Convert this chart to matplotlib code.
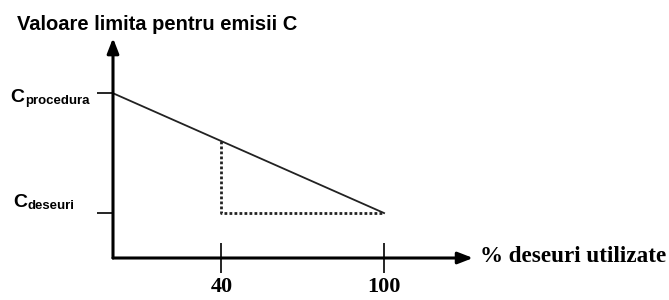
import matplotlib.pyplot as plt
import matplotlib.transforms as mtransforms

# data
x_limit = [0, 100]          # % deseuri utilizate
c_limit = [2.0, 1.0]        # C_procedura -> C_deseuri
x_dotted = [40, 40, 100]
c_dotted = [1.6, 1.0, 1.0]
x_ticks = [40, 100]
x_ticklabels = ["40", "100"]
y_ticks = [1.0, 2.0]
y_subscripts = ["deseuri", "procedura"]

xmin, xmax = 0, 132.8
ymin, ymax = 0.625, 2.46

fig = plt.figure(figsize=(6.69, 3.0), dpi=100)
ax = fig.add_axes([113 / 669, 0.14, (473 - 113) / 669, 0.733])
ax.set_xlim(xmin, xmax)
ax.set_ylim(ymin, ymax)
for s in ax.spines.values():
    s.set_visible(False)

# axes with arrows
arrow = dict(arrowstyle="-|>,head_length=0.9,head_width=0.35", color="black",
             lw=2.2, shrinkA=0, shrinkB=0)
ax.annotate("", xy=(xmax, ymin), xytext=(xmin, ymin), arrowprops=arrow,
            annotation_clip=False)
ax.annotate("", xy=(xmin, ymax), xytext=(xmin, ymin), arrowprops=arrow,
            annotation_clip=False)

# lines
ax.plot(x_limit, c_limit, color="#222222", lw=1.3)
ax.plot(x_dotted, c_dotted, color="#222222", lw=2.0, linestyle=(0, (1, 0.8)))

# ticks
ax.set_xticks(x_ticks)
ax.set_xticklabels(x_ticklabels, fontfamily="Liberation Serif",
                   fontweight="bold", fontsize=16)
ax.tick_params(axis="x", direction="inout", length=22, width=1.2, pad=3)
ax.set_yticks(y_ticks)
ax.set_yticklabels([])
ax.tick_params(axis="y", direction="out", length=11.5, width=1.2)

# y tick labels: C with subscript
blend = mtransforms.blended_transform_factory(fig.transFigure, ax.transData)
# (x of C px, x of subscript px, baseline shift px below tick)
label_pos = [(13.5, 28, -6), (10, 25, 9)]
for y, sub, (xc, xs, dy) in zip(y_ticks, y_subscripts, label_pos):
    tc = blend + mtransforms.ScaledTranslation(0, -dy / 100, fig.dpi_scale_trans)
    ts = blend + mtransforms.ScaledTranslation(0, -(dy + 1.5) / 100, fig.dpi_scale_trans)
    ax.text(xc / 669, y, "C", transform=tc, fontfamily="Liberation Sans",
            fontweight="bold", fontsize=14, ha="left", va="baseline")
    ax.text(xs / 669, y, sub, transform=ts, fontfamily="Liberation Sans",
            fontweight="bold", fontsize=9.5, ha="left", va="baseline")

# labels
fig.text(17 / 669, 1 - 25 / 300, "Valoare limita pentru emisii C",
         fontfamily="Liberation Sans", fontweight="bold", fontsize=14.5,
         ha="left", va="center")
fig.text(480 / 669, 1 - 257 / 300, "% deseuri utilizate",
         fontfamily="Liberation Serif", fontweight="bold", fontsize=16.7,
         ha="left", va="center")

plt.savefig("out.png", dpi=100)
